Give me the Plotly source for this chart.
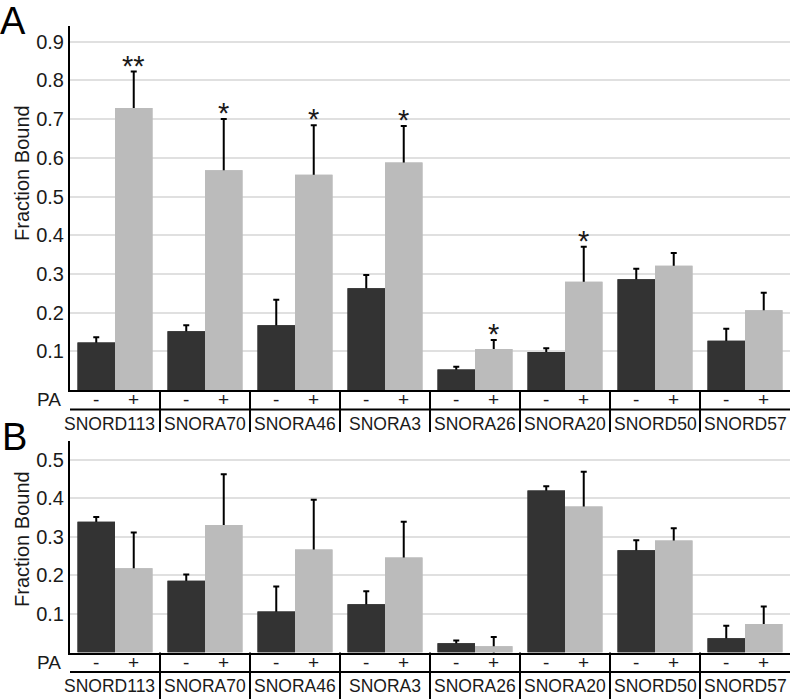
import plotly.graph_objects as go

# ---------------- data ----------------
genes = ["SNORD113", "SNORA70", "SNORA46", "SNORA3", "SNORA26", "SNORA20", "SNORD50", "SNORD57"]

# Panel A
a_minus = [0.123, 0.152, 0.167, 0.263, 0.053, 0.098, 0.286, 0.127]
a_minus_top = [0.136, 0.167, 0.233, 0.297, 0.060, 0.108, 0.313, 0.158]
a_plus = [0.729, 0.568, 0.556, 0.588, 0.106, 0.280, 0.321, 0.206]
a_plus_top = [0.823, 0.700, 0.684, 0.682, 0.129, 0.370, 0.354, 0.251]
a_sig = ["**", "*", "*", "*", "*", "*", "", ""]

# Panel B
b_minus = [0.339, 0.186, 0.106, 0.125, 0.024, 0.420, 0.265, 0.037]
b_minus_top = [0.351, 0.202, 0.171, 0.159, 0.031, 0.431, 0.291, 0.069]
b_plus = [0.218, 0.330, 0.267, 0.246, 0.016, 0.378, 0.290, 0.074]
b_plus_top = [0.311, 0.462, 0.396, 0.339, 0.040, 0.468, 0.322, 0.119]

a_ticks = [0.1, 0.2, 0.3, 0.4, 0.5, 0.6, 0.7, 0.8, 0.9]
b_ticks = [0.1, 0.2, 0.3, 0.4, 0.5]
pa_labels = ["-", "+"]

# ---------------- style ----------------
W, H = 796, 699
FONT = "Liberation Sans, Arial, Helvetica, sans-serif"
DARK = "#333333"
LIGHT = "#bbbbbb"
TXT = "#1a1a1a"
BARGAP = 0.167
OFF = (1 - BARGAP) / 4


def py(p):
    return (H - p) / H


X0, X1 = 70 / W, 790 / W
A_BOT, A_TOP = 390, 26
B_BOT, B_TOP = 652.5, 441

fig = go.Figure()


def add_panel(minus, minus_top, plus, plus_top, xa, ya):
    groups = (("m", minus, minus_top, DARK), ("p", plus, plus_top, LIGHT))
    # error bars first (symmetric, lower half hidden by the bars drawn on top)
    for og, vals, tops, col in groups:
        fig.add_trace(go.Bar(
            x=genes, y=vals, offsetgroup=og, marker=dict(color=col, line=dict(width=0)),
            error_y=dict(type="data", symmetric=True,
                         array=[t - v for t, v in zip(tops, vals)],
                         color="black", thickness=2, width=3),
            xaxis=xa, yaxis=ya, showlegend=False, hoverinfo="skip"))
    for og, vals, tops, col in groups:
        fig.add_trace(go.Bar(
            x=genes, y=vals, offsetgroup=og, marker=dict(color=col, line=dict(width=0)),
            xaxis=xa, yaxis=ya, showlegend=False, hoverinfo="skip"))


add_panel(a_minus, a_minus_top, a_plus, a_plus_top, "x", "y")
add_panel(b_minus, b_minus_top, b_plus, b_plus_top, "x2", "y2")

axis_common = dict(showline=True, linecolor="black", linewidth=2,
                   showgrid=False, zeroline=False, ticks="", showticklabels=False,
                   range=[-0.5, 7.5], fixedrange=True)
ycommon = dict(showline=True, linecolor="black", linewidth=2, showgrid=True,
               gridcolor="#e0e0e0", gridwidth=2, zeroline=False, ticks="",
               tickfont=dict(family=FONT, size=20, color=TXT), fixedrange=True)

fig.update_layout(
    width=W, height=H, margin=dict(l=0, r=0, t=0, b=0),
    paper_bgcolor="white", plot_bgcolor="white",
    barmode="group", bargap=BARGAP, bargroupgap=0,
    xaxis=dict(domain=[X0, X1], anchor="y", **axis_common),
    yaxis=dict(domain=[py(A_BOT), py(A_TOP)], anchor="x", range=[0, (A_BOT - A_TOP) / 387],
               tickvals=a_ticks, ticktext=[f"{t:.1f}" for t in a_ticks], **ycommon),
    xaxis2=dict(domain=[X0, X1], anchor="y2", **axis_common),
    yaxis2=dict(domain=[py(B_BOT), py(B_TOP)], anchor="x2", range=[0, (B_BOT - B_TOP) / 386],
                tickvals=b_ticks, ticktext=[f"{t:.1f}" for t in b_ticks], **ycommon),
)

ann = []
shapes = []


def label_rows(xref, axis_y, pa_y, line_y, gene_y, bottom_y):
    ann.append(dict(text="PA", x=63 / W, xref="paper", y=py(pa_y), yref="paper",
                    xanchor="right", yanchor="middle", showarrow=False,
                    font=dict(family=FONT, size=19, color=TXT)))
    for i, g in enumerate(genes):
        for j, s in enumerate(pa_labels):
            ann.append(dict(text=s, x=i + (-OFF if j == 0 else OFF), xref=xref,
                            y=py(pa_y), yref="paper", xanchor="center", yanchor="middle",
                            showarrow=False, font=dict(family=FONT, size=19, color=TXT)))
        ann.append(dict(text=g, x=i, xref=xref, y=py(gene_y), yref="paper",
                        xanchor="center", yanchor="middle", showarrow=False,
                        xshift=-6 if i == 0 else 0,
                        font=dict(family=FONT, size=17.5, color=TXT)))
        if i < len(genes) - 1:
            shapes.append(dict(type="line", xref=xref, yref="paper", x0=i + 0.5, x1=i + 0.5,
                               y0=py(axis_y), y1=py(bottom_y),
                               line=dict(color="black", width=2)))
    shapes.append(dict(type="line", xref=xref, yref="paper", x0=-0.5, x1=7.5,
                       y0=py(line_y), y1=py(line_y), line=dict(color="black", width=2)))


label_rows("x", A_BOT, 400, 409.5, 424, 432)
label_rows("x2", B_BOT, 662, 672, 686, 699)

# significance stars
for i, s in enumerate(a_sig):
    if s:
        ann.append(dict(text=s, x=i + OFF, xref="x", y=a_plus_top[i], yref="y",
                        xanchor="center", yanchor="bottom", yshift=-12, showarrow=False,
                        font=dict(family=FONT, size=29, color=TXT)))

# y titles
for yc in (173, 539):
    ann.append(dict(text="Fraction Bound", x=22 / W, xref="paper", y=py(yc), yref="paper",
                    textangle=-90, xanchor="center", yanchor="middle", showarrow=False,
                    font=dict(family=FONT, size=20, color=TXT)))

# panel letters
ann.append(dict(text="A", x=13 / W, xref="paper", y=py(21), yref="paper", xanchor="center",
                yanchor="middle", showarrow=False, font=dict(family=FONT, size=38, color="black")))
ann.append(dict(text="B", x=15 / W, xref="paper", y=py(437), yref="paper", xanchor="center",
                yanchor="middle", showarrow=False, font=dict(family=FONT, size=38, color="black")))

fig.update_layout(annotations=ann, shapes=shapes)
fig.write_html("out.html", config={"displayModeBar": False},
               post_script="document.body.style.margin='0';document.body.style.overflow='hidden';")
